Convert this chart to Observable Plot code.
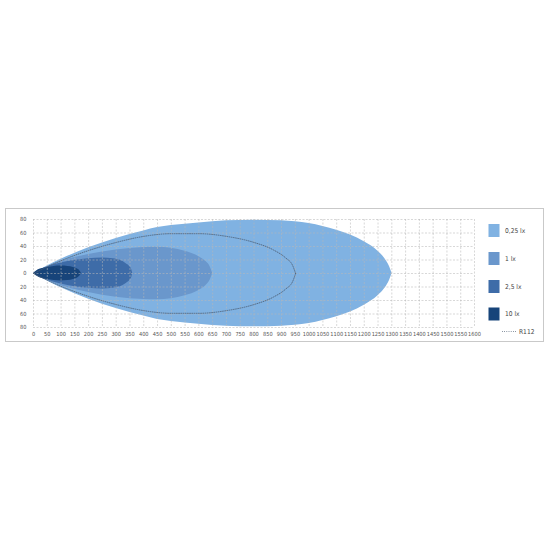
<!DOCTYPE html>
<html>
<head>
<meta charset="utf-8">
<script src="https://cdn.jsdelivr.net/npm/d3@7"></script>
<script src="https://cdn.jsdelivr.net/npm/@observablehq/plot@0.6"></script>
<style>
  html, body { margin: 0; padding: 0; background: #fff; }
  #chart { position: relative; width: 550px; height: 550px; }
  #chart svg text { font-stretch: condensed; }
</style>
</head>
<body>
<div id="chart"></div>
<script>
// ---- data ----
const categories = ["0,25 lx", "1 lx", "2,5 lx", "10 lx"];
const colors = ["#80b2e2", "#6a97cc", "#3e6ca8", "#17447a"];

// half-width (m) of each lux zone along the distance axis (m)
const zone025X = [0, 50, 100, 200, 300, 400, 450, 500, 600, 700, 800, 900, 1000, 1100, 1150, 1200, 1250, 1275, 1292, 1301];
const zone025W = [0, 11, 21, 38, 52, 63, 68, 71, 75, 78, 79, 78, 74, 64, 57, 47, 33, 22, 10, 0];

const zone1X = [0, 50, 100, 200, 300, 400, 450, 500, 550, 600, 625, 642, 650];
const zone1W = [0, 10, 18, 28, 35, 38.5, 39, 37.5, 33, 25, 18, 9, 0];

const zone25X = [0, 25, 50, 100, 150, 200, 250, 290, 315, 335, 350, 357, 360];
const zone25W = [0, 5.5, 9.5, 15.5, 19.5, 22, 23, 22, 19.5, 15, 10, 5, 0];

const zone10X = [0, 10, 25, 50, 75, 100, 125, 145, 160, 169, 174];
const zone10W = [0, 3.5, 6.5, 9, 10.5, 11, 10.5, 9, 6.5, 3.5, 0];

const r112X = [0, 100, 200, 300, 400, 500, 600, 700, 800, 870, 915, 940, 951];
const r112W = [0, 19, 34, 46, 55, 59, 59, 55, 46, 35, 23, 12, 0];

const xTicks = [0, 50, 100, 150, 200, 250, 300, 350, 400, 450, 500, 550, 600, 650, 700, 750, 800,
  850, 900, 950, 1000, 1050, 1100, 1150, 1200, 1250, 1300, 1350, 1400, 1450, 1500, 1550, 1600];
const yTicks = [80, 60, 40, 20, 0, -20, -40, -60, -80];

// ---- build tables ----
const zones = [
  {name: categories[0], xs: zone025X, ws: zone025W, color: colors[0]},
  {name: categories[1], xs: zone1X, ws: zone1W, color: colors[1]},
  {name: categories[2], xs: zone25X, ws: zone25W, color: colors[2]},
  {name: categories[3], xs: zone10X, ws: zone10W, color: colors[3]}
];
const zoneRows = zones.map(z => z.xs.map((x, i) => ({x, w: z.ws[i]})));
const r112Rows = [];
r112X.forEach((x, i) => r112Rows.push({x, y: r112W[i], side: "upper"}));
r112X.forEach((x, i) => r112Rows.push({x, y: -r112W[i], side: "lower"}));

const W = 550, H = 550;
const mL = 33, mR = 76, mT = 219, mB = 223;
const font = "'DejaVu Sans Condensed', 'Liberation Sans Narrow', 'Open Sans', sans-serif";

const plot = Plot.plot({
  width: W,
  height: H,
  marginLeft: mL,
  marginRight: mR,
  marginTop: mT,
  marginBottom: mB,
  style: {fontFamily: font, fontSize: "5.6px", color: "#555", background: "transparent"},
  x: {domain: [0, 1600]},
  y: {domain: [-80, 80]},
  marks: [
    ...zones.map((z, k) => Plot.areaY(zoneRows[k], {
      x: "x", y1: d => -d.w, y2: "w", fill: z.color, curve: "monotone-x"
    })),
    Plot.gridX(xTicks, {stroke: "#b8b8b8", strokeOpacity: 0.55, strokeDasharray: "2,1.5"}),
    Plot.gridY(yTicks, {stroke: "#b8b8b8", strokeOpacity: 0.55, strokeDasharray: "2,1.5"}),
    Plot.line(r112Rows, {
      x: "x", y: "y", z: "side", stroke: "#4a5a70", strokeWidth: 0.8,
      strokeDasharray: "0.8,1.4", curve: "monotone-x"
    }),
    Plot.axisX({ticks: xTicks, tickSize: 0, tickPadding: 5, label: null, tickFormat: d => String(d)}),
    Plot.axisY({ticks: yTicks, tickSize: 0, tickPadding: 7, label: null, tickFormat: d => String(Math.abs(d))})
  ]
});

document.getElementById("chart").appendChild(plot);

// ---- outer frame and legend ----
const svg = d3.select(plot);
svg.insert("rect", ":first-child")
  .attr("x", 5.5).attr("y", 208.5)
  .attr("width", 538).attr("height", 133)
  .attr("fill", "#fff")
  .attr("stroke", "#c9c9c9")
  .attr("stroke-width", 1);

const leg = svg.append("g")
  .attr("font-family", font)
  .attr("font-size", "6.6px")
  .attr("fill", "#444")
  .attr("text-anchor", "start");
const legY = [224, 252, 280, 307.5];
categories.forEach((c, i) => {
  leg.append("rect")
    .attr("x", 488.5).attr("y", legY[i])
    .attr("width", 11).attr("height", 13)
    .attr("fill", colors[i]);
  leg.append("text")
    .attr("x", 505).attr("y", legY[i] + 6.5)
    .attr("dy", "0.35em")
    .attr("text-anchor", "start")
    .text(c);
});
leg.append("line")
  .attr("x1", 502).attr("x2", 516.5)
  .attr("y1", 331.5).attr("y2", 331.5)
  .attr("stroke", "#4a5a70").attr("stroke-width", 0.8)
  .attr("stroke-dasharray", "0.8,1.4");
leg.append("text")
  .attr("x", 519).attr("y", 331.5)
  .attr("dy", "0.35em")
  .attr("text-anchor", "start")
  .text("R112");
</script>
</body>
</html>
